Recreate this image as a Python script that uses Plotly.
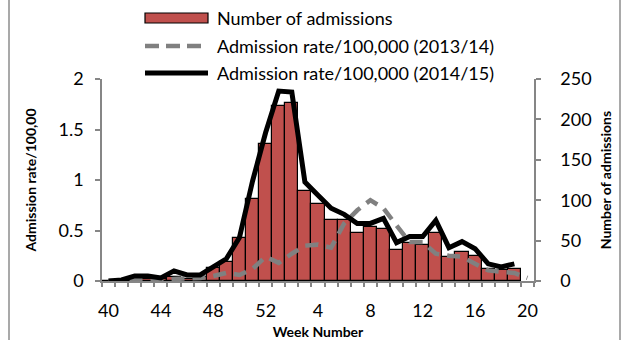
import plotly.graph_objects as go

# Influenza season weeks (week 40 of 2014 through week 20 of 2015)
weeks = [str(w) for w in list(range(40, 53)) + list(range(1, 21))]
labelled_weeks = ["40", "44", "48", "52", "4", "8", "12", "16", "20"]

# Weekly number of hospital admissions, 2014/15
admissions = [0, 0, 1, 3, 2, 5, 3, 5, 16, 24, 53, 102, 170, 216, 220, 111,
              95, 76, 76, 60, 67, 64, 38, 47, 45, 59, 30, 36, 31, 15, 14, 15, None]

# Admission rate per 100,000 population
rate_2013_14 = [0.0, 0.0, 0.01, 0.01, 0.01, 0.02, 0.02, 0.03, 0.05, 0.08, 0.06,
                0.12, 0.24, 0.18, 0.27, 0.35, 0.36, 0.33, 0.57, 0.70, 0.80, 0.72,
                0.55, 0.385, 0.385, 0.27, 0.25, 0.24, 0.17, 0.105, 0.09, 0.08, 0.03]
rate_2014_15 = [0.0, 0.01, 0.05, 0.05, 0.03, 0.10, 0.06, 0.06, 0.14, 0.22, 0.43,
                0.99, 1.47, 1.88, 1.87, 0.98, 0.85, 0.72, 0.66, 0.57, 0.57, 0.62,
                0.38, 0.44, 0.44, 0.60, 0.33, 0.39, 0.32, 0.17, 0.14, 0.17, None]

series_names = ["Number of admissions",
                "Admission rate/100,000 (2013/14)",
                "Admission rate/100,000 (2014/15)"]

BAR_RED = "#C0504D"
DASH_GREY = "#808080"
AXIS_GREY = "#868686"
FONT = "Lato"

W, H = 624, 340
L, R, T, B = 102, 90, 79, 59


def px_x(px):
    """Convert a pixel column to paper x coordinates."""
    return (px - L) / (W - L - R)


def px_y(py):
    """Convert a pixel row to paper y coordinates."""
    return (H - B - py) / (H - T - B)


fig = go.Figure()

fig.add_trace(go.Bar(
    x=weeks, y=admissions, name=series_names[0], yaxis="y",
    marker=dict(color=BAR_RED, line=dict(color="black", width=1.2)),
    width=1.0,
))
fig.add_trace(go.Scatter(
    x=weeks, y=rate_2013_14, name=series_names[1], yaxis="y2", mode="lines",
    line=dict(color=DASH_GREY, width=4.5, dash="13px,8px"),
))
fig.add_trace(go.Scatter(
    x=weeks, y=rate_2014_15, name=series_names[2], yaxis="y2", mode="lines",
    line=dict(color="black", width=5),
))

ticktext = [w if w in labelled_weeks else "" for w in weeks]

axis_common = dict(
    showline=True, linecolor=AXIS_GREY, linewidth=1.5,
    ticks="outside", tickcolor=AXIS_GREY, ticklen=5, tickwidth=1.5,
    showgrid=False, zeroline=False, automargin=False,
    tickfont=dict(family=FONT, size=18, color="black"),
)

fig.update_layout(
    width=W, height=H,
    margin=dict(l=L, r=R, t=T, b=B),
    paper_bgcolor="white", plot_bgcolor="white",
    showlegend=False,
    bargap=0,
    font=dict(family=FONT, color="black"),
    xaxis=dict(
        axis_common,
        type="category", tickmode="array", tickvals=weeks, ticktext=ticktext,
        tickson="boundaries", ticklen=4, ticklabelstandoff=13, tickangle=0,
        range=[-0.5, len(weeks) - 0.5],
        title=dict(text="<b>Week Number</b>", font=dict(family=FONT, size=14), standoff=9),
    ),
    yaxis=dict(
        axis_common,
        side="right", range=[0, 250], dtick=50, ticklabelstandoff=16,
        title=dict(text="<b>Number of admissions</b>", font=dict(family=FONT, size=14), standoff=11),
    ),
    yaxis2=dict(
        axis_common,
        overlaying="y", side="left", range=[0, 2], dtick=0.5, ticklabelstandoff=8,
        title=dict(text="<b>Admission rate/100,00</b>", font=dict(family=FONT, size=14), standoff=19),
    ),
)

# Legend block above the plot area
sym_x0, sym_x1, text_x = 145, 208, 215
rows_y = [18, 46, 73]
shapes = [
    dict(type="rect", xref="paper", yref="paper",
         x0=px_x(sym_x0), x1=px_x(sym_x1), y0=px_y(rows_y[0] + 5), y1=px_y(rows_y[0] - 5),
         fillcolor=BAR_RED, line=dict(color="black", width=1.2)),
    dict(type="line", xref="paper", yref="paper",
         x0=px_x(sym_x0), x1=px_x(sym_x1), y0=px_y(rows_y[1]), y1=px_y(rows_y[1]),
         line=dict(color=DASH_GREY, width=4.5, dash="14px,7px")),
    dict(type="line", xref="paper", yref="paper",
         x0=px_x(sym_x0), x1=px_x(sym_x1), y0=px_y(rows_y[2]), y1=px_y(rows_y[2]),
         line=dict(color="black", width=5)),
    # chart frame edges
    dict(type="line", xref="paper", yref="paper",
         x0=px_x(9), x1=px_x(9), y0=px_y(H + 5), y1=px_y(-5),
         line=dict(color="#8C8C8C", width=1.5)),
    dict(type="line", xref="paper", yref="paper",
         x0=px_x(620), x1=px_x(620), y0=px_y(H + 5), y1=px_y(-5),
         line=dict(color="#8C8C8C", width=1.5)),
]
annotations = [
    dict(text=name, xref="paper", yref="paper", x=px_x(text_x), y=px_y(y),
         xanchor="left", yanchor="middle", showarrow=False,
         font=dict(family=FONT, size=18, color="black"))
    for name, y in zip(series_names, rows_y)
]
fig.update_layout(shapes=shapes, annotations=annotations)

fig.write_html("out.html")
